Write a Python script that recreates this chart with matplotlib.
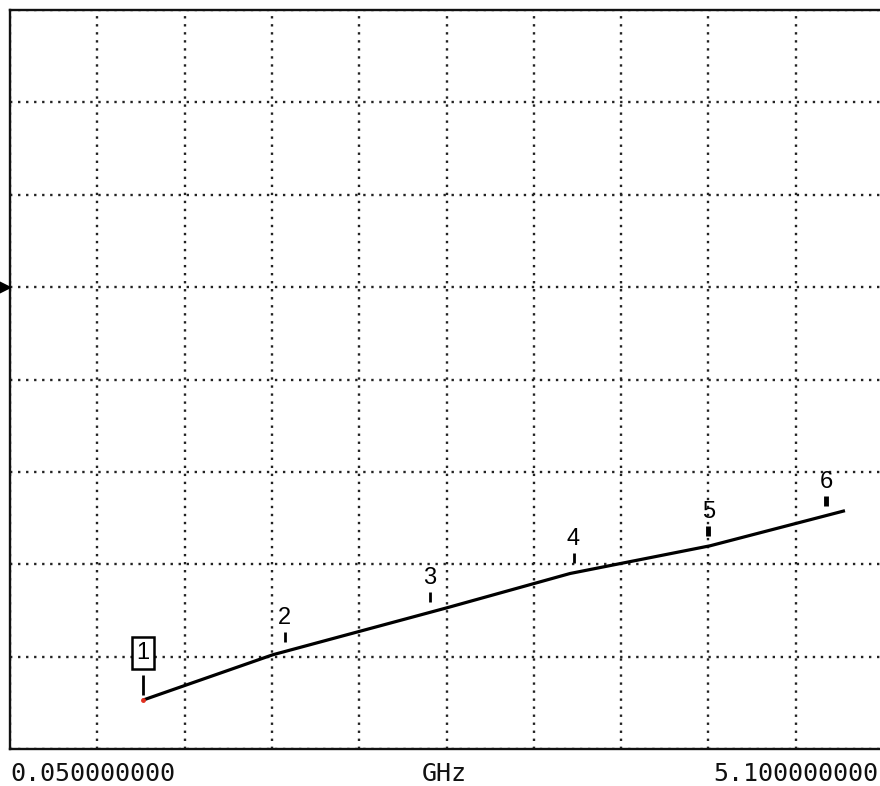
import numpy as np
import matplotlib
matplotlib.use("Agg")
import matplotlib.pyplot as plt

# ---- data ----
f_start_ghz = 0.05
f_stop_ghz = 5.1
n_xdiv = 10
n_ydiv = 8
ref_level_div = 5.0

trace_freq_ghz = [0.82, 1.57, 2.58, 3.29, 4.10, 4.88]
trace_level = [0.53, 1.02, 1.53, 1.90, 2.20, 2.58]

marker_labels = ["1", "2", "3", "4", "5", "6"]
marker_freq_ghz = [0.82, 1.64, 2.48, 3.31, 4.09, 4.77]

start_label = "0.050000000"
stop_label = "5.100000000"
unit_label = "GHz"

# ---- figure ----
W, H = 880, 786
fig = plt.figure(figsize=(W / 100, H / 100), dpi=100)
fig.patch.set_facecolor("white")
ax_left, ax_top, ax_right, ax_bottom = 10, 10, 883, 749
ax = fig.add_axes([ax_left / W, 1 - ax_bottom / H,
                   (ax_right - ax_left) / W, (ax_bottom - ax_top) / H])
ax.set_xlim(f_start_ghz, f_stop_ghz)
ax.set_ylim(0, n_ydiv)
ax.set_xticks(np.linspace(f_start_ghz, f_stop_ghz, n_xdiv + 1))
ax.set_yticks(np.arange(0, n_ydiv + 1))
ax.tick_params(length=0, labelbottom=False, labelleft=False)
ax.grid(True, color="#222222", linewidth=1.7, linestyle=(0, (1, 2.4)))
for s in ["left", "top", "bottom"]:
    ax.spines[s].set_linewidth(1.7)
    ax.spines[s].set_color("#111111")
ax.spines["right"].set_visible(False)

# trace
ax.plot(trace_freq_ghz, trace_level, color="black", linewidth=2.3,
        solid_capstyle="butt", zorder=3)
ax.plot(trace_freq_ghz[0], trace_level[0], marker="o", markersize=2.5,
        color="#e03020", zorder=4)

# markers
fig.canvas.draw()
lv = np.interp(marker_freq_ghz, trace_freq_ghz, trace_level)
for i, (lab, f, y) in enumerate(zip(marker_labels, marker_freq_ghz, lv)):
    if i == 0:
        gap, tlen, lw = 5, 20, 2.0
    else:
        gap, tlen, lw = 10, 10, 2.0 if i < 4 else 3.5
    x_px, y_px = ax.transData.transform((f, y))
    fig.add_artist(plt.Line2D([x_px / W, x_px / W],
                              [(y_px + gap) / H, (y_px + gap + tlen) / H],
                              color="black", linewidth=lw,
                              solid_capstyle="butt"))
    if i == 0:
        fig.text(x_px / W, (y_px + gap + tlen + 22) / H, lab,
                 ha="center", va="center", fontsize=17,
                 family="Liberation Sans",
                 bbox=dict(boxstyle="square,pad=0.2", fc="white",
                           ec="black", lw=1.8))
    else:
        fig.text(x_px / W, (y_px + gap + tlen + 14) / H, lab,
                 ha="center", va="center", fontsize=17,
                 family="Liberation Sans")

# reference arrow on left
ref_y_px = ax.transData.transform((f_start_ghz, ref_level_div))[1]
fig.add_artist(plt.Line2D([4 / W], [ref_y_px / H], marker=">",
                          markersize=8, color="black", linestyle="none"))

# bottom labels
mono = "DejaVu Sans Mono"
fig.text(10 / W, 1 - 774 / H, start_label, ha="left", va="center",
         fontsize=18, family=mono, color="#111111")
fig.text(878 / W, 1 - 774 / H, stop_label, ha="right", va="center",
         fontsize=18, family=mono, color="#111111")
fig.text(444 / W, 1 - 774 / H, unit_label, ha="center", va="center",
         fontsize=18, family=mono, color="#111111")

fig.savefig("out.png", dpi=100, facecolor="white")
